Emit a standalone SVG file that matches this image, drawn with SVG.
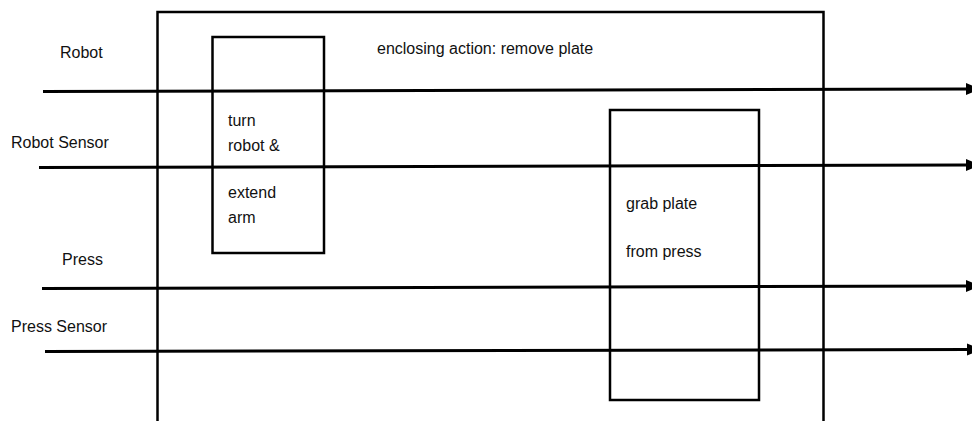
<svg xmlns="http://www.w3.org/2000/svg" width="972" height="421" viewBox="0 0 972 421">
<style>
.t{font-family:"Liberation Sans",Arial,sans-serif;font-size:16px;fill:#111}
.b{fill:none;stroke:#000;stroke-width:2.5}
.c{stroke:#000;stroke-width:3;fill:none}
</style>
<defs>
<marker id="ah" markerWidth="5" markerHeight="4" refX="0" refY="2" orient="auto" markerUnits="strokeWidth" overflow="visible">
<path d="M0,0 L5,2 L0,4 Z" fill="#000"/>
</marker>
</defs>
<rect width="972" height="421" fill="#fff"/>
<g id="enclosing">
<path class="b" d="M157.5,425 V12 H823.5 V425"/>
<text class="t" x="377" y="54">enclosing action: remove plate</text>
</g>
<g id="labels">
<text class="t" x="60" y="58">Robot</text>
<text class="t" x="11" y="148">Robot Sensor</text>
<text class="t" x="62" y="265">Press</text>
<text class="t" x="11" y="332">Press Sensor</text>
</g>
<g id="turn">
<rect class="b" x="212.5" y="37" width="111.5" height="216"/>
<text class="t" x="228" y="126">turn</text>
<text class="t" x="228" y="151">robot &amp;</text>
<text class="t" x="228" y="198">extend</text>
<text class="t" x="228" y="223">arm</text>
</g>
<g id="grab">
<rect class="b" x="610" y="110" width="149" height="290"/>
<text class="t" x="626" y="209">grab plate</text>
<text class="t" x="626" y="257">from press</text>
</g>
<g id="connectors">
<line class="c" x1="43" y1="91.5" x2="966" y2="89" marker-end="url(#ah)"/>
<line class="c" x1="39" y1="167.5" x2="966" y2="165" marker-end="url(#ah)"/>
<line class="c" x1="42" y1="288.5" x2="966" y2="286" marker-end="url(#ah)"/>
<line class="c" x1="45" y1="351.5" x2="967" y2="349.5" marker-end="url(#ah)"/>
</g>
</svg>
